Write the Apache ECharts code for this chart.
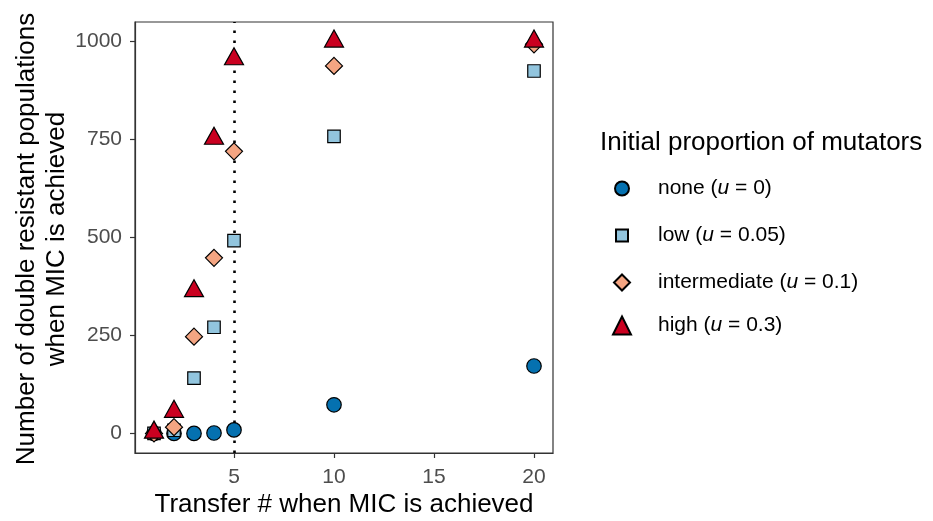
<!DOCTYPE html>
<html>
<head>
<meta charset="utf-8">
<script src="https://cdn.jsdelivr.net/npm/echarts@6/dist/echarts.min.js"></script>
<style>html,body{margin:0;padding:0;background:#fff;}#c{width:933px;height:521px;}</style>
</head>
<body>
<div id="c"></div>
<script>
// ---- data ----
const transfers = [1, 2, 3, 4, 5, 10, 20];
const noneVals = [0, 0, 0, 1, 9, 73, 172];
const lowVals = [0, 8, 141, 271, 492, 758, 925];
const intermediateVals = [0, 16, 247, 448, 720, 938, 993];
const highVals = [2, 55, 363, 752, 955, 1000, 1000];
const xTicks = [5, 10, 15, 20];
const yTicks = [0, 250, 500, 750, 1000];
const seriesNames = ['none (u = 0)', 'low (u = 0.05)', 'intermediate (u = 0.1)', 'high (u = 0.3)'];
const micTransfer = 5;

const FONT = "'Liberation Sans', Arial, Helvetica, sans-serif";
const pair = v => transfers.map((x, i) => [x, v[i]]);

const styles = [
  { symbol: 'circle', size: 14.5, color: '#0571b0', legSize: 14, cy: 188 },
  { symbol: 'rect', size: 12.5, color: '#92c5de', legSize: 12, cy: 235 },
  { symbol: 'diamond', size: 17, color: '#f4a582', legSize: 16, cy: 282 },
  { symbol: 'triangle', size: [19, 17], color: '#ca0020', legSize: 18, cy: 325, offset: [0, -3] }
];
const valsList = [noneVals, lowVals, intermediateVals, highVals];

const series = valsList.map((v, i) => {
  const s = {
    name: seriesNames[i],
    type: 'scatter',
    data: pair(v),
    symbol: styles[i].symbol,
    symbolSize: styles[i].size,
    symbolOffset: styles[i].offset || [0, 0],
    itemStyle: { color: styles[i].color, borderColor: '#000', borderWidth: 1.2, opacity: 1 },
    emphasis: { disabled: true },
    silent: true
  };
  if (i === 0) {
    s.markLine = {
      silent: true,
      z: 1,
      symbol: ['none', 'none'],
      label: { show: false },
      lineStyle: { color: '#000', type: [2.5, 7.5], width: 2.6 },
      data: [{ xAxis: micTransfer }],
      animation: false
    };
  }
  return s;
});

const legends = styles.map((st, i) => ({
  show: true,
  orient: 'vertical',
  left: 621 - st.legSize / 2,
  top: st.cy - 10,
  padding: 0,
  itemWidth: st.legSize,
  itemHeight: st.legSize,
  selectedMode: false,
  data: [seriesNames[i]],
  formatter: name => name.replace('(u', '({i|u}'),
  textStyle: {
    fontFamily: FONT, fontSize: 21, color: '#000',
    padding: [0, 0, 0, 31 - st.legSize / 2],
    rich: { i: { fontFamily: FONT, fontSize: 21, fontStyle: 'italic', color: '#000' } }
  }
}));

const chart = echarts.init(document.getElementById('c'), null, { renderer: 'canvas' });
chart.setOption({
  animation: false,
  backgroundColor: '#fff',
  grid: { left: 135, right: 380, top: 22, bottom: 68, show: true, borderColor: '#333', borderWidth: 1.2, backgroundColor: 'transparent' },
  xAxis: {
    type: 'value', min: 0.05, max: 20.95,
    axisLine: { show: true, onZero: false, lineStyle: { color: '#333', width: 1.2 } },
    axisTick: { show: true, length: 5, customValues: xTicks, lineStyle: { color: '#333', width: 1.2 } },
    axisLabel: { customValues: xTicks, margin: 14, color: '#4d4d4d', fontSize: 21, fontFamily: FONT, formatter: v => String(v) },
    splitLine: { show: false }
  },
  yAxis: {
    type: 'value', min: -50, max: 1050,
    axisLine: { show: true, onZero: false, lineStyle: { color: '#333', width: 1.2 } },
    axisTick: { show: true, length: 5, customValues: yTicks, lineStyle: { color: '#333', width: 1.2 } },
    axisLabel: { customValues: yTicks, margin: 13, color: '#4d4d4d', fontSize: 21, fontFamily: FONT, formatter: v => String(v) },
    splitLine: { show: false }
  },
  legend: legends,
  graphic: [
    { type: 'text', x: 344, y: 505, style: { text: 'Transfer # when MIC is achieved', font: '26px ' + FONT, fill: '#000', align: 'center', verticalAlign: 'middle' } },
    { type: 'text', x: 42, y: 239, rotation: Math.PI / 2, style: { text: 'Number of double resistant populations\nwhen MIC is achieved', font: '26px ' + FONT, fill: '#000', align: 'center', verticalAlign: 'middle', lineHeight: 30 } },
    { type: 'text', x: 600, y: 143, style: { text: 'Initial proportion of mutators', font: '26px ' + FONT, fill: '#000', align: 'left', verticalAlign: 'middle' } }
  ],
  series: series
});
</script>
</body>
</html>
